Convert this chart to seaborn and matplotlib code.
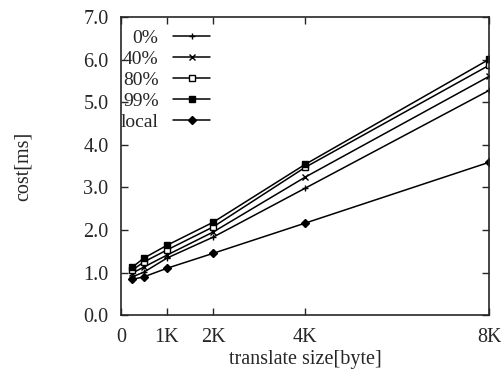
import numpy as np
import pandas as pd
import matplotlib
matplotlib.use("Agg")
import matplotlib.pyplot as plt
import seaborn as sns

# translate size in bytes
sizes = [256, 512, 1024, 2048, 4096, 8192]
cost_0 = [0.90, 1.01, 1.34, 1.83, 2.98, 5.28]
cost_40 = [0.99, 1.13, 1.41, 1.95, 3.24, 5.61]
cost_80 = [1.06, 1.25, 1.53, 2.07, 3.47, 5.87]
cost_99 = [1.13, 1.34, 1.64, 2.18, 3.54, 6.01]
cost_local = [0.84, 0.90, 1.10, 1.45, 2.16, 3.59]

series_names = ["0%", "40%", "80%", "99%", "local"]
x_ticks = [0, 1024, 2048, 4096, 8192]
x_tick_labels = ["0", "1K", "2K", "4K", "8K"]

sns.set_style("ticks")
plt.rcParams["font.family"] = ["Liberation Serif", "DejaVu Serif"]

df = pd.DataFrame({
    "size": sizes * 5,
    "cost": cost_0 + cost_40 + cost_80 + cost_99 + cost_local,
    "series": [n for n in series_names for _ in sizes],
})

markers = {"0%": "+", "40%": "x", "80%": "s", "99%": "s", "local": "D"}
facecolors = {"0%": "black", "40%": "black", "80%": "white", "99%": "black", "local": "black"}
msizes = {"0%": 5, "40%": 4.5, "80%": 4.5, "99%": 4.5, "local": 3.8}

fig = plt.figure(figsize=(5.01, 3.72), dpi=100)
ax = fig.add_axes([0.2415, 0.153, 0.735, 0.801])

for name in series_names:
    sub = df[df["series"] == name]
    sns.lineplot(data=sub, x="size", y="cost", ax=ax, color="black",
                 marker=markers[name], markersize=msizes[name],
                 markerfacecolor=facecolors[name], markeredgecolor="black",
                 markeredgewidth=1.0, linewidth=1.1, label=name)

ax.set_xlim(0, 8192)
ax.set_ylim(0, 7)
ax.set_xticks(x_ticks)
ax.set_xticklabels(x_tick_labels)
ax.set_yticks(np.arange(0, 7.01, 1.0))
ax.set_yticklabels([f"{v:.1f}" for v in np.arange(0, 7.01, 1.0)])
ax.tick_params(direction="in", top=True, right=True, labelsize=14.5, length=5,
               width=1.0)
ax.tick_params(axis="y", pad=9)
ax.tick_params(axis="x", pad=9)
for s in ax.spines.values():
    s.set_linewidth(1.2)

ax.set_xlabel("translate size[byte]", fontsize=14.5)
ax.set_ylabel("cost[ms]", fontsize=14.5)
ax.xaxis.set_label_coords(0.5, -0.118)
ax.yaxis.set_label_coords(-0.24, 0.5)

# markerfirst=False right-aligns the rows, so the labels end at the same x
ax.legend(loc="upper left", bbox_to_anchor=(-0.022, 0.985), frameon=False,
          markerfirst=False, fontsize=14, handlelength=1.9, labelspacing=0.17,
          handletextpad=0.75, borderaxespad=0)

fig.savefig("out.png", dpi=100)
